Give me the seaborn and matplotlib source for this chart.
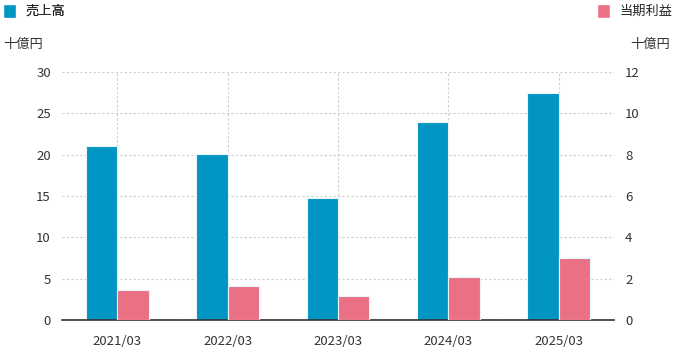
import matplotlib
matplotlib.use("Agg")
import matplotlib.pyplot as plt
import seaborn as sns
import pandas as pd
from matplotlib.patches import Patch

categories = ["2021/03", "2022/03", "2023/03", "2024/03", "2025/03"]
sales = [21.1, 20.1, 14.8, 24.0, 27.5]
profit = [1.45, 1.66, 1.16, 2.08, 3.0]
series_names = ["売上高", "当期利益"]
left_ticks = [0, 5, 10, 15, 20, 25, 30]
right_ticks = [0, 2, 4, 6, 8, 10, 12]
unit_label = "十億円"

colors = {"売上高": "#0095c3", "当期利益": "#ea7185"}

sns.set_theme(style="white")
plt.rcParams["font.family"] = ["Noto Sans CJK JP", "DejaVu Sans"]

df_sales = pd.DataFrame({"期": categories, "値": sales, "系列": "売上高"})
df_profit = pd.DataFrame({"期": categories, "値": profit, "系列": "当期利益"})

fig = plt.figure(figsize=(6.87, 3.54), dpi=100)
ax1 = fig.add_axes([62/687, 34/354, (614-62)/687, (320-72)/354])
ax2 = ax1.twinx()

bar_kw = dict(x="期", y="値", hue="系列", hue_order=series_names, palette=colors,
              dodge=True, width=0.57, legend=False, saturation=1,
              edgecolor="#e8f4f8", linewidth=0.8, order=categories)
sns.barplot(data=df_sales, ax=ax1, **bar_kw)
sns.barplot(data=df_profit, ax=ax2, **bar_kw)

ax1.set_ylim(0, 30)
ax2.set_ylim(0, 12)
ax1.set_xlim(-0.5, len(categories) - 0.5)
ax1.set_yticks(left_ticks)
ax2.set_yticks(right_ticks)
ax1.set_xlabel("")
ax1.set_ylabel("")
ax2.set_ylabel("")

grid_kw = dict(color="#cccccc", linestyle=(0, (2, 2)), linewidth=0.8)
ax1.grid(axis="y", **grid_kw)
ax1.grid(axis="x", **grid_kw)
ax1.set_axisbelow(True)
ax2.set_axisbelow(True)

for ax in (ax1, ax2):
    for s in ["top", "left", "right", "bottom"]:
        ax.spines[s].set_visible(False)
ax1.spines["bottom"].set_visible(True)
ax1.spines["bottom"].set_color("#333333")
ax1.spines["bottom"].set_linewidth(1.2)

ax1.tick_params(axis="y", length=0, labelsize=9.5, labelcolor="#333333", pad=8)
ax2.tick_params(axis="y", length=0, labelsize=9.5, labelcolor="#333333", pad=8)
ax1.tick_params(axis="x", length=5, width=1.5, color="#999999", labelsize=9.5,
                labelcolor="#333333", pad=6)

fig.text(3/687, 1 - 44/354, unit_label, fontsize=9.5, color="#333333", va="center", ha="left")
fig.text(670/687, 1 - 44/354, unit_label, fontsize=9.5, color="#333333", va="center", ha="right")

leg_kw = dict(frameon=False, fontsize=9.5, handlelength=1.0, handleheight=1.25,
              handletextpad=0.7, borderaxespad=0, borderpad=0.0)
leg1 = fig.legend(handles=[Patch(facecolor=colors["売上高"], label="売上高")],
                  loc="center left", bbox_to_anchor=(3/687, 1 - 11/354), **leg_kw)
fig.legend(handles=[Patch(facecolor=colors["当期利益"], label="当期利益")],
           loc="center left", bbox_to_anchor=(597/687, 1 - 11/354), **leg_kw)
fig.add_artist(leg1)

fig.savefig("out.png", dpi=100)
